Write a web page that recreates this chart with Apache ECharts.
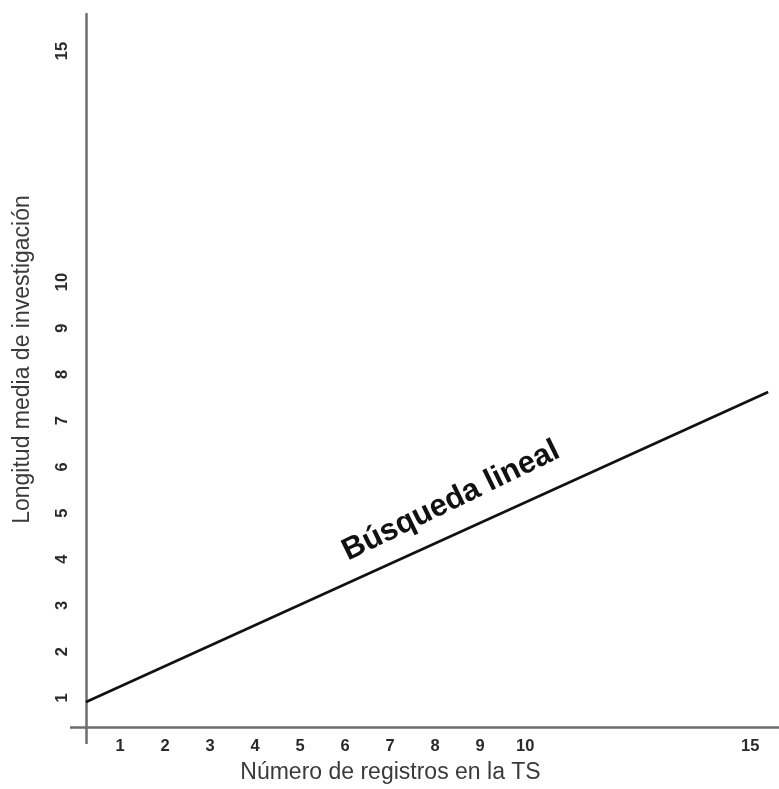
<!DOCTYPE html>
<html>
<head>
<meta charset="utf-8">
<script src="https://cdn.jsdelivr.net/npm/echarts@6/dist/echarts.min.js"></script>
<style>html,body{margin:0;padding:0;background:#fff;}#c{width:779px;height:789px;}</style>
</head>
<body>
<div id="c"></div>
<script>
// Data
const xTickLabels = [1, 2, 3, 4, 5, 6, 7, 8, 9, 10, 15];
const yTickLabels = [1, 2, 3, 4, 5, 6, 7, 8, 9, 10, 15];
const lineX = [0.24, 15.4];
const lineY = [0.91, 7.62];
const xRange = [0.24, 15.64];
const yRange = [0.37, 15.8];
const xTitle = 'Número de registros en la TS';
const yTitle = 'Longitud media de investigación';
const seriesLabel = 'Búsqueda lineal';

const chart = echarts.init(document.getElementById('c'), null, {renderer: 'canvas'});
const axisColor = '#6e6e6e';
chart.setOption({
  animation: false,
  backgroundColor: '#fff',
  grid: {left: 86, right: 0, top: 14, bottom: 61, containLabel: false},
  xAxis: {
    type: 'value', min: xRange[0], max: xRange[1],
    splitLine: {show: false},
    axisLine: {show: true, onZero: false, lineStyle: {color: axisColor, width: 2.5}},
    axisTick: {show: true, customValues: [xRange[0]], length: 17, inside: false, lineStyle: {color: axisColor, width: 2.5}},
    axisLabel: {customValues: xTickLabels, margin: 11, color: '#2a2a2a', fontFamily: 'Liberation Sans, Arial', fontWeight: 'bold', fontSize: 16.5},
    name: xTitle, nameLocation: 'middle', nameGap: 34,
    nameTextStyle: {color: '#3a3a3a', fontFamily: 'Liberation Sans, Arial', fontSize: 23, padding: [0, 84, 0, 0]}
  },
  yAxis: {
    type: 'value', min: yRange[0], max: yRange[1],
    splitLine: {show: false},
    axisLine: {show: true, onZero: false, lineStyle: {color: axisColor, width: 2.5}},
    axisTick: {show: true, customValues: [yRange[0]], length: 16, inside: false, lineStyle: {color: axisColor, width: 2.5}},
    axisLabel: {customValues: yTickLabels, rotate: 90, margin: 15, color: '#2a2a2a', fontFamily: 'Liberation Sans, Arial', fontWeight: 'bold', fontSize: 16.5},
    name: yTitle, nameLocation: 'middle', nameGap: 52, nameRotate: 90,
    nameTextStyle: {color: '#3a3a3a', fontFamily: 'Liberation Sans, Arial', fontSize: 23, padding: [0, 0, 0, 22]}
  },
  series: [{
    type: 'line',
    data: lineX.map((x, i) => [x, lineY[i]]),
    symbol: 'none',
    clip: false,
    lineStyle: {color: '#111', width: 2.6}
  }],
  graphic: [{
    type: 'text',
    x: 451, y: 501,
    rotation: 26 * Math.PI / 180,
    style: {
      text: seriesLabel, x: 0, y: 0, align: 'center', verticalAlign: 'middle',
      fill: '#111', font: 'bold 31px "Liberation Sans", Arial'
    }
  }]
});
</script>
</body>
</html>
